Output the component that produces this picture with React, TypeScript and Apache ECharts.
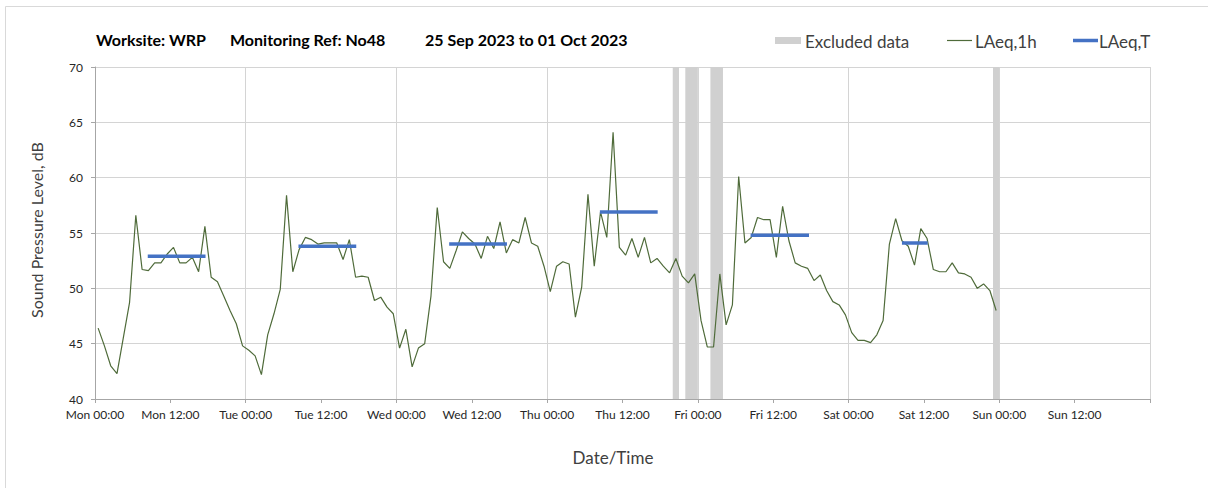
import React, { useEffect, useRef } from "react";
import * as echarts from "echarts";

// Hourly LAeq,1h values, Mon 00:00 .. Sun 00:00 (one per hour, plotted at mid-hour)
const laeq1h: number[] = [
  46.4, 44.8, 43.0, 42.3, 45.5, 48.7, 56.6, 51.7, 51.6, 52.3, 52.3, 53.1, 53.7, 52.3, 52.3, 52.8, 51.5, 55.6, 51.0, 50.6, 49.3, 48.0, 46.8, 44.8,
  44.4, 43.9, 42.2, 45.8, 47.7, 49.9, 58.4, 51.5, 53.5, 54.6, 54.4, 54.0, 54.1, 54.1, 54.1, 52.6, 54.4, 51.0, 51.1, 51.0, 48.9, 49.2, 48.3, 47.7,
  44.6, 46.3, 42.9, 44.6, 45.0, 49.3, 57.3, 52.4, 51.8, 53.4, 55.1, 54.5, 54.0, 52.7, 54.7, 53.6, 56.0, 53.2, 54.4, 54.1, 56.4, 54.1, 53.8, 52.0,
  49.7, 52.0, 52.4, 52.2, 47.4, 50.1, 58.5, 52.0, 56.9, 54.6, 64.1, 53.7, 53.0, 54.5, 52.8, 54.6, 52.3, 52.7, 52.0, 51.4, 52.7, 51.1, 50.5, 51.3,
  47.1, 44.7, 44.7, 51.3, 46.7, 48.5, 60.1, 54.1, 54.6, 56.4, 56.2, 56.2, 52.8, 57.4, 54.3, 52.3, 52.0, 51.8, 50.7, 51.2, 49.8, 48.8, 48.5, 47.6,
  46.0, 45.3, 45.3, 45.1, 45.8, 47.1, 54.0, 56.3, 54.3, 53.8, 52.1, 55.4, 54.5, 51.7, 51.5, 51.5, 52.3, 51.4, 51.3, 51.0, 50.0, 50.4, 49.8, 48.0,
];

// LAeq,T periods (hours from Mon 00:00)
const periodStart: number[] = [8.4, 32.4, 56.4, 80.4, 104.4, 128.5];
const periodEnd: number[] = [17.6, 41.6, 65.6, 89.6, 113.7, 132.6];
const laeqT: number[] = [52.9, 53.8, 54.0, 56.9, 54.8, 54.1];

// Excluded data ranges (hours from Mon 00:00)
const excludedStart: number[] = [92, 94, 98, 143];
const excludedEnd: number[] = [93, 96, 100, 144];

const xTickLabels: string[] = [
  "Mon 00:00", "Mon 12:00", "Tue 00:00", "Tue 12:00", "Wed 00:00", "Wed 12:00",
  "Thu 00:00", "Thu 12:00", "Fri 00:00", "Fri 12:00", "Sat 00:00", "Sat 12:00",
  "Sun 00:00", "Sun 12:00", "",
];

const FONT = "Lato, 'Open Sans', sans-serif";
const GREEN = "#4f6b3a";
const BLUE = "#4472c4";
const BAND = "#d0d0d0";

export default function App() {
  const ref = useRef<HTMLDivElement>(null);

  useEffect(() => {
    if (!ref.current) return;
    const chart = echarts.init(ref.current, undefined, { renderer: "svg" });

    const blueSeries = laeqT.map((v, k) => ({
      type: "line",
      name: "LAeq,T",
      data: [
        [periodStart[k], v],
        [periodEnd[k], v],
      ],
      showSymbol: false,
      symbol: "none",
      z: 4,
      lineStyle: { color: BLUE, width: 3.5 },
    }));

    chart.setOption({
      animation: false,
      backgroundColor: "#ffffff",
      grid: { left: 95, top: 67, width: 1055, height: 332, containLabel: false },
      xAxis: [
        {
          type: "value",
          min: 0,
          max: 168,
          interval: 12,
          axisLine: { show: true, lineStyle: { color: "#a6a6a6", width: 1 } },
          axisTick: { show: true, length: 4, lineStyle: { color: "#a6a6a6" } },
          axisLabel: {
            margin: 9,
            fontFamily: FONT,
            fontSize: 12,
            color: "#262626",
            formatter: (v: number) => xTickLabels[Math.round(v / 12)] ?? "",
          },
          splitLine: { show: false },
        },
        {
          type: "value",
          min: 0,
          max: 168,
          interval: 24,
          position: "top",
          axisLine: { show: false },
          axisTick: { show: false },
          axisLabel: { show: false },
          splitLine: { show: true, lineStyle: { color: "#d4d4d4", width: 1 } },
        },
      ],
      yAxis: {
        type: "value",
        min: 40,
        max: 70,
        interval: 5,
        axisLine: { show: true, lineStyle: { color: "#a6a6a6" } },
        axisTick: { show: true, length: 4, lineStyle: { color: "#a6a6a6" } },
        axisLabel: { margin: 12, fontFamily: FONT, fontSize: 12, color: "#262626" },
        splitLine: { show: true, lineStyle: { color: "#d4d4d4", width: 1 } },
      },
      series: [
        {
          type: "line",
          name: "Excluded data",
          data: [],
          z: 1,
          markArea: {
            silent: true,
            itemStyle: { color: BAND },
            data: excludedStart.map((s, k) => [{ xAxis: s }, { xAxis: excludedEnd[k] }]),
          },
        },
        {
          type: "line",
          name: "LAeq,1h",
          data: laeq1h.map((v, i) => [i + 0.5, v]),
          showSymbol: false,
          symbol: "none",
          z: 3,
          lineStyle: { color: GREEN, width: 1.2 },
        },
        ...blueSeries,
      ],
      graphic: [
        {
          type: "rect",
          shape: { x: 5.5, y: 6.5, width: 1220, height: 500 },
          style: { fill: "none", stroke: "#d9d9d9", lineWidth: 1 },
          silent: true,
        },
        {
          type: "text",
          x: 96,
          y: 39,
          style: { text: "Worksite: WRP", font: `bold 16px ${FONT}`, fill: "#000", verticalAlign: "middle" },
        },
        {
          type: "text",
          x: 230,
          y: 39,
          style: { text: "Monitoring Ref: No48", font: `bold 16px ${FONT}`, fill: "#000", verticalAlign: "middle" },
        },
        {
          type: "text",
          x: 425,
          y: 39,
          style: { text: "25 Sep 2023 to 01 Oct 2023", font: `bold 16px ${FONT}`, fill: "#000", verticalAlign: "middle" },
        },
        // legend
        { type: "rect", shape: { x: 775, y: 37, width: 26, height: 7 }, style: { fill: BAND } },
        {
          type: "text",
          x: 805,
          y: 41,
          style: { text: "Excluded data", font: `17px ${FONT}`, fill: "#404040", verticalAlign: "middle" },
        },
        { type: "line", shape: { x1: 947, y1: 40.5, x2: 972, y2: 40.5 }, style: { stroke: GREEN, lineWidth: 1.2 } },
        {
          type: "text",
          x: 975,
          y: 41,
          style: { text: "LAeq,1h", font: `17px ${FONT}`, fill: "#404040", verticalAlign: "middle" },
        },
        { type: "line", shape: { x1: 1073, y1: 40.5, x2: 1098, y2: 40.5 }, style: { stroke: BLUE, lineWidth: 3.5 } },
        {
          type: "text",
          x: 1099,
          y: 41,
          style: { text: "LAeq,T", font: `17px ${FONT}`, fill: "#404040", verticalAlign: "middle" },
        },
        // axis names
        {
          type: "text",
          x: 36,
          y: 230,
          rotation: Math.PI / 2,
          style: {
            text: "Sound Pressure Level, dB",
            font: `16px ${FONT}`,
            fill: "#404040",
            align: "center",
            verticalAlign: "middle",
          },
        },
        {
          type: "text",
          x: 613,
          y: 457,
          style: { text: "Date/Time", font: `17px ${FONT}`, fill: "#404040", align: "center", verticalAlign: "middle" },
        },
      ],
    });

    return () => chart.dispose();
  }, []);

  return (
    <div
      ref={ref}
      style={{ position: "absolute", left: 0, top: 0, width: 1208, height: 488, background: "#fff" }}
    />
  );
}
